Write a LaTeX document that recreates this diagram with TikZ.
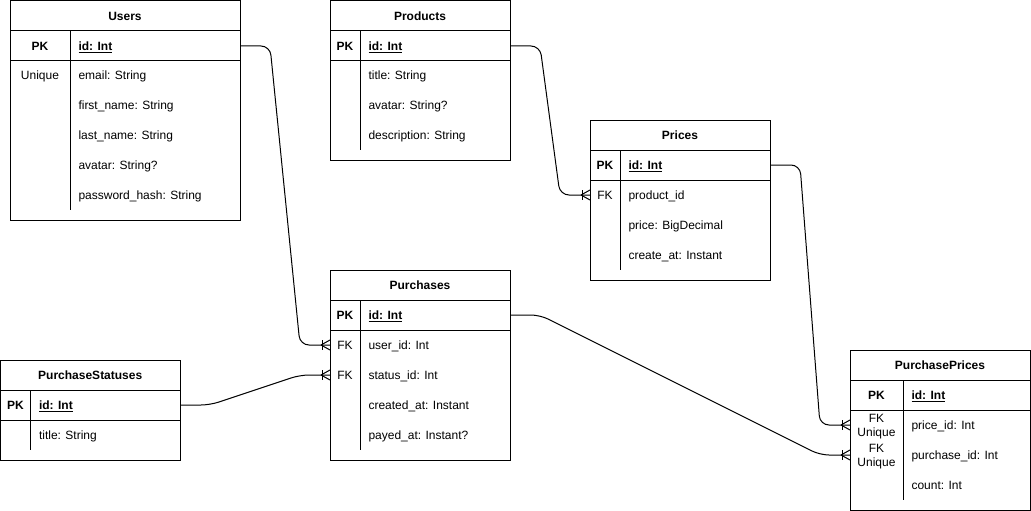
\documentclass[tikz,border=0pt]{standalone}
\usepackage{fontspec}
\setmainfont{Liberation Sans}
\usetikzlibrary{calc}

% Entity box with title bar, primary-key separator and key/field divider.
% #1 name, #2 x, #3 y, #4 width, #5 height, #6 key column width, #7 divider bottom, #8 title
\newcommand{\ertable}[8]{%
  \node[tablebox, minimum width=#4pt, minimum height=#5pt] (#1) at (#2,#3) {};
  \draw (#2,#3+30) -- ++(#4,0);
  \draw (#2,#3+60) -- ++(#4,0);
  \draw (#2+#6,#3+30) -- (#2+#6,#7);
  \node[titletext] (#1-title) at (#2+#4/2,#3+15+4.8) {#8};
}
% One attribute row: #1 row name, #2 x, #3 width, #4 key column width, #5 row centre, #6 key, #7 field
\newcommand{\errow}[7]{%
  \node[rowbox, minimum width=#3pt] (#1) at (#2+#3/2,#5) {};
  \node[keytext] (#1-k) at (#2+#4/2,#5+4.8) {#6};
  \node[fieldtext] (#1-f) at (#2+#4+8,#5+4.8) {#7};
}

\begin{document}
\begin{tikzpicture}[x=1pt,y=-1pt,line width=1pt,
  every node/.style={font=\fontsize{12}{14}\selectfont},
  tablebox/.style={draw,anchor=north west,inner sep=0pt,outer sep=0pt},
  rowbox/.style={inner sep=0pt,outer sep=0pt,minimum height=30pt},
  titletext/.style={anchor=base,inner sep=0pt,font=\fontsize{12}{14}\selectfont\bfseries},
  keytext/.style={anchor=base,inner sep=0pt},
  fieldtext/.style={anchor=base west,inner sep=0pt},
  link/.style={rounded corners=9pt},
  crowfoot/.pic={
    \draw (-8,-5) -- (-8,5);
    \draw (-9,0) -- (0,-5);
    \draw (-9,0) -- (0,5);
  }]
\useasboundingbox (0,0) rectangle (1031,511);

% Users
\ertable{users}{10}{1}{230}{219}{60}{210}{Users}
\errow{users-id}{10}{230}{60}{46}{\bfseries PK}{\bfseries\underline{id: Int}}
\errow{users-email}{10}{230}{60}{75}{Unique}{email: String}
\errow{users-first}{10}{230}{60}{105}{}{first\_name: String}
\errow{users-last}{10}{230}{60}{135}{}{last\_name: String}
\errow{users-avatar}{10}{230}{60}{165}{}{avatar: String?}
\errow{users-pass}{10}{230}{60}{195}{}{password\_hash: String}

% Products
\ertable{products}{330}{1}{180}{159}{30}{150}{Products}
\errow{products-id}{330}{180}{30}{46}{\bfseries PK}{\bfseries\underline{id: Int}}
\errow{products-title}{330}{180}{30}{75}{}{title: String}
\errow{products-avatar}{330}{180}{30}{105}{}{avatar: String?}
\errow{products-desc}{330}{180}{30}{135}{}{description: String}

% Prices
\ertable{prices}{590}{120}{180}{160}{30}{270}{Prices}
\errow{prices-id}{590}{180}{30}{165}{\bfseries PK}{\bfseries\underline{id: Int}}
\errow{prices-product}{590}{180}{30}{195}{FK}{product\_id}
\errow{prices-price}{590}{180}{30}{225}{}{price: BigDecimal}
\errow{prices-create}{590}{180}{30}{255}{}{create\_at: Instant}

% Purchases
\ertable{purchases}{330}{270}{180}{190}{30}{450}{Purchases}
\errow{purchases-id}{330}{180}{30}{315}{\bfseries PK}{\bfseries\underline{id: Int}}
\errow{purchases-user}{330}{180}{30}{345}{FK}{user\_id: Int}
\errow{purchases-status}{330}{180}{30}{375}{FK}{status\_id: Int}
\errow{purchases-created}{330}{180}{30}{405}{}{created\_at: Instant}
\errow{purchases-payed}{330}{180}{30}{435}{}{payed\_at: Instant?}

% PurchaseStatuses
\ertable{statuses}{0.5}{360}{179.5}{100}{30}{450}{PurchaseStatuses}
\errow{statuses-id}{0.5}{179.5}{30}{405}{\bfseries PK}{\bfseries\underline{id: Int}}
\errow{statuses-title}{0.5}{179.5}{30}{435}{}{title: String}

% PurchasePrices
\ertable{pprices}{850}{350}{180}{160}{53}{500}{PurchasePrices}
\errow{pprices-id}{850}{180}{53}{395}{\bfseries PK}{\bfseries\underline{id: Int}}
\errow{pprices-price}{850}{180}{53}{425}{}{price\_id: Int}
\errow{pprices-purchase}{850}{180}{53}{455}{}{purchase\_id: Int}
\errow{pprices-count}{850}{180}{53}{485}{}{count: Int}
\node[keytext] (pprices-price-fk) at (876.5,418+4.8) {FK};
\node[keytext] (pprices-price-uq) at (876.5,432+4.8) {Unique};
\node[keytext] (pprices-purchase-fk) at (876.5,448+4.8) {FK};
\node[keytext] (pprices-purchase-uq) at (876.5,462+4.8) {Unique};

% Relationships (one-to-many)
\draw[link] (users-id.east) -- ++(30,0) -- ($(purchases-user.west)+(-30,0)$) -- (purchases-user.west);
\pic at (purchases-user.west) {crowfoot};

\draw[link] (statuses-id.east) -- ++(30,0) -- ($(purchases-status.west)+(-30,0)$) -- (purchases-status.west);
\pic at (purchases-status.west) {crowfoot};

\draw[link] (products-id.east) -- ++(30,0) -- ($(prices-product.west)+(-30,0)$) -- (prices-product.west);
\pic at (prices-product.west) {crowfoot};

\draw[link] (prices-id.east) -- ++(30,0) -- ($(pprices-price.west)+(-30,0)$) -- (pprices-price.west);
\pic at (pprices-price.west) {crowfoot};

\draw[link] (purchases-id.east) -- ++(30,0) -- ($(pprices-purchase.west)+(-30,0)$) -- (pprices-purchase.west);
\pic at (pprices-purchase.west) {crowfoot};
\end{tikzpicture}
\end{document}
